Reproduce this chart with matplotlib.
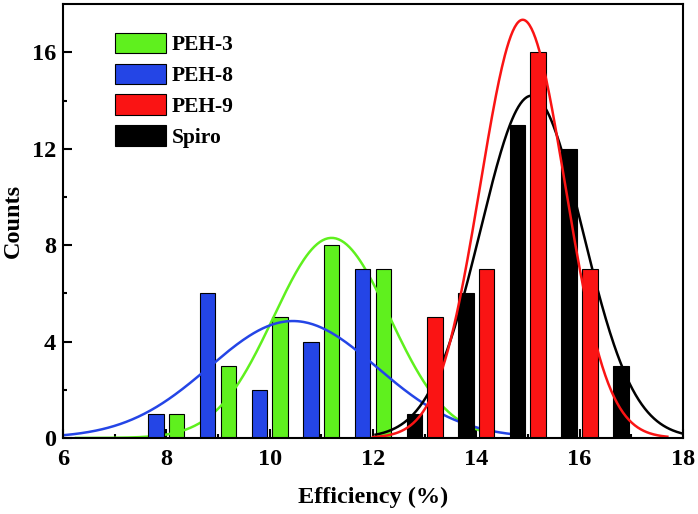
import numpy as np
import matplotlib
matplotlib.use("Agg")
import matplotlib.pyplot as plt
from matplotlib.patches import Patch

plt.rcParams["font.family"] = ["Liberation Serif", "DejaVu Serif"]
plt.rcParams["font.weight"] = "bold"

# ── data ──────────────────────────────────────────────────────────────────────
series   = ["PEH-3", "PEH-8", "Spiro", "PEH-9"]
colors   = {"PEH-3": "#5ff01e", "PEH-8": "#2445e6", "PEH-9": "#fa1414", "Spiro": "#000000"}

peh3_x   = [8.2, 9.2, 10.2, 11.2, 12.2]
peh3_n   = [1, 3, 5, 8, 7]
peh8_x   = [7.8, 8.8, 9.8, 10.8, 11.8]
peh8_n   = [1, 6, 2, 4, 7]
peh9_x   = [13.2, 14.2, 15.2, 16.2]
peh9_n   = [5, 7, 16, 7]
spiro_x  = [12.8, 13.8, 14.8, 15.8, 16.8]
spiro_n  = [1, 6, 13, 12, 3]

# gaussian fits: amplitude, centre, sigma, drawn range
fit_amp   = {"PEH-3": 8.3,  "PEH-8": 4.85, "PEH-9": 17.35, "Spiro": 14.2}
fit_mu    = {"PEH-3": 11.2, "PEH-8": 10.45, "PEH-9": 14.9, "Spiro": 15.07}
fit_sigma = {"PEH-3": 1.12, "PEH-8": 1.62, "PEH-9": 0.82, "Spiro": 0.99}
fit_range = {"PEH-3": (6.25, 14.05), "PEH-8": (6.02, 14.8),
             "PEH-9": (12.0, 17.7), "Spiro": (12.05, 18.0)}

bars = {"PEH-3": (peh3_x, peh3_n), "PEH-8": (peh8_x, peh8_n),
        "PEH-9": (peh9_x, peh9_n), "Spiro": (spiro_x, spiro_n)}

# ── plot ──────────────────────────────────────────────────────────────────────
fig = plt.figure(figsize=(6.98, 5.14), dpi=100)
ax = fig.add_axes([0.0903, 0.148, 0.888, 0.844])

for s in series:
    x, n = bars[s]
    ax.bar(x, n, width=0.3, color=colors[s], edgecolor="black", linewidth=0.8, zorder=2)
    lo, hi = fit_range[s]
    xx = np.linspace(lo, hi, 300)
    yy = fit_amp[s] * np.exp(-(xx - fit_mu[s]) ** 2 / (2 * fit_sigma[s] ** 2))
    ax.plot(xx, yy, color=colors[s], lw=1.8, zorder=2)

ax.set_xlim(6, 18)
ax.set_ylim(0, 18)
ax.set_xticks(np.arange(6, 19, 2))
ax.set_xticks(np.arange(7, 18, 2), minor=True)
ax.set_yticks(np.arange(0, 17, 4))
ax.set_yticks(np.arange(2, 17, 4), minor=True)
ax.tick_params(which="both", direction="in", width=1.5, labelsize=17.5)
ax.tick_params(axis="x", pad=8)
ax.tick_params(axis="y", pad=5)
ax.tick_params(which="major", length=6.5)
ax.tick_params(which="minor", length=3)
for sp in ax.spines.values():
    sp.set_linewidth(1.5)

ax.set_xlabel("Efficiency (%)", fontsize=17.5, fontweight="bold", labelpad=12)
ax.set_ylabel("Counts", fontsize=17.5, fontweight="bold", labelpad=6)

order = ["PEH-3", "PEH-8", "PEH-9", "Spiro"]
handles = [Patch(facecolor=colors[s], edgecolor="black", linewidth=0.8) for s in order]
ax.legend(handles, order, loc="upper left", bbox_to_anchor=(0.07, 0.954),
          frameon=False, fontsize=15.5, handlelength=2.35, handleheight=1.1,
          labelspacing=0.38, handletextpad=0.3, borderaxespad=0)

fig.savefig("out.png", dpi=100)
